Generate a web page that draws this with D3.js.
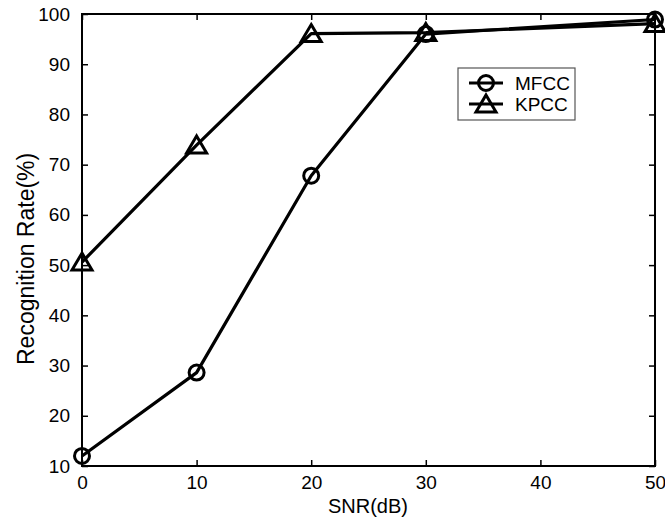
<!DOCTYPE html>
<html>
<head>
<meta charset="utf-8">
<script src="https://cdn.jsdelivr.net/npm/d3@7/dist/d3.min.js"></script>
<style>
  body { margin: 0; background: #fff; }
  svg text { font-family: "Liberation Sans", Arial, sans-serif; fill: #000; }
</style>
</head>
<body>
<svg id="chart" width="665" height="520"></svg>
<script>
// data
const snr = [0, 10, 20, 30, 50];
const mfcc = [12, 28.6, 67.8, 96, 98.9];
const kpcc = [50.6, 73.9, 96.1, 96.3, 98.1];
const xTicks = [0, 10, 20, 30, 40, 50];
const yTicks = [10, 20, 30, 40, 50, 60, 70, 80, 90, 100];
const seriesNames = ["MFCC", "KPCC"];

const svg = d3.select("#chart");
const plotL = 82, plotR = 655, plotT = 14, plotB = 466;

const x = d3.scaleLinear().domain([0, 50]).range([plotL, plotR]);
const y = d3.scaleLinear().domain([10, 100]).range([plotB, plotT]);

// axes with inward ticks on all four sides
const tickLen = 6;
svg.append("g")
  .attr("transform", `translate(0,${plotB})`)
  .call(d3.axisBottom(x).tickValues(xTicks).tickSizeInner(-tickLen).tickSizeOuter(0).tickPadding(10))
  .call(g => g.selectAll("text").attr("font-size", 19));
svg.append("g")
  .attr("transform", `translate(0,${plotT})`)
  .call(d3.axisTop(x).tickValues(xTicks).tickSizeInner(-tickLen).tickSizeOuter(0).tickFormat(""));
svg.append("g")
  .attr("transform", `translate(${plotL},0)`)
  .call(d3.axisLeft(y).tickValues(yTicks).tickSizeInner(-tickLen).tickSizeOuter(0).tickPadding(12))
  .call(g => g.selectAll("text").attr("font-size", 19));
svg.append("g")
  .attr("transform", `translate(${plotR},0)`)
  .call(d3.axisRight(y).tickValues(yTicks).tickSizeInner(-tickLen).tickSizeOuter(0).tickFormat(""));

svg.selectAll(".domain").remove();
svg.selectAll(".tick line").attr("stroke", "#000").attr("stroke-width", 1.5);

svg.append("rect")
  .attr("x", plotL).attr("y", plotT)
  .attr("width", plotR - plotL).attr("height", plotB - plotT)
  .attr("fill", "none").attr("stroke", "#000").attr("stroke-width", 2);

// labels
svg.append("text")
  .attr("x", 368).attr("y", 513)
  .attr("text-anchor", "middle").attr("font-size", 20)
  .text("SNR(dB)");
svg.append("text")
  .attr("transform", "translate(34,365) rotate(-90)")
  .attr("text-anchor", "start").attr("font-size", 23)
  .text("Recognition Rate(%)");

const line = d3.line().x(d => x(d[0])).y(d => y(d[1]));
const triPath = "M0,-9L10,8L-10,8Z";

function addMarker(sel, marker) {
  if (marker === "circle") {
    sel.append("circle").attr("r", 7.5)
      .attr("fill", "none").attr("stroke", "#000").attr("stroke-width", 3);
  } else {
    sel.append("path").attr("d", triPath)
      .attr("fill", "none").attr("stroke", "#000").attr("stroke-width", 3)
      .attr("stroke-linejoin", "miter");
  }
}

function drawSeries(vals, marker) {
  const pts = snr.map((s, i) => [s, vals[i]]);
  svg.append("path").datum(pts)
    .attr("d", line)
    .attr("fill", "none").attr("stroke", "#000").attr("stroke-width", 3.2)
    .attr("stroke-linejoin", "round");
  const m = svg.append("g").selectAll("g").data(pts).join("g")
    .attr("transform", d => `translate(${x(d[0])},${y(d[1])})`);
  addMarker(m, marker);
}

drawSeries(mfcc, "circle");
drawSeries(kpcc, "triangle");

// legend
const lg = svg.append("g");
lg.append("rect")
  .attr("x", 458).attr("y", 68).attr("width", 117).attr("height", 52)
  .attr("fill", "#fff").attr("stroke", "#555").attr("stroke-width", 1.2);
const markers = ["circle", "triangle"];
seriesNames.forEach((name, i) => {
  const ry = 83 + i * 21;
  lg.append("line")
    .attr("x1", 469).attr("x2", 503).attr("y1", ry).attr("y2", ry)
    .attr("stroke", "#000").attr("stroke-width", 3.2);
  const g = lg.append("g").attr("transform", `translate(486,${ry})`);
  addMarker(g, markers[i]);
  lg.append("text")
    .attr("x", 515).attr("y", ry).attr("dy", "0.35em")
    .attr("font-size", 19)
    .text(name);
});
</script>
</body>
</html>
